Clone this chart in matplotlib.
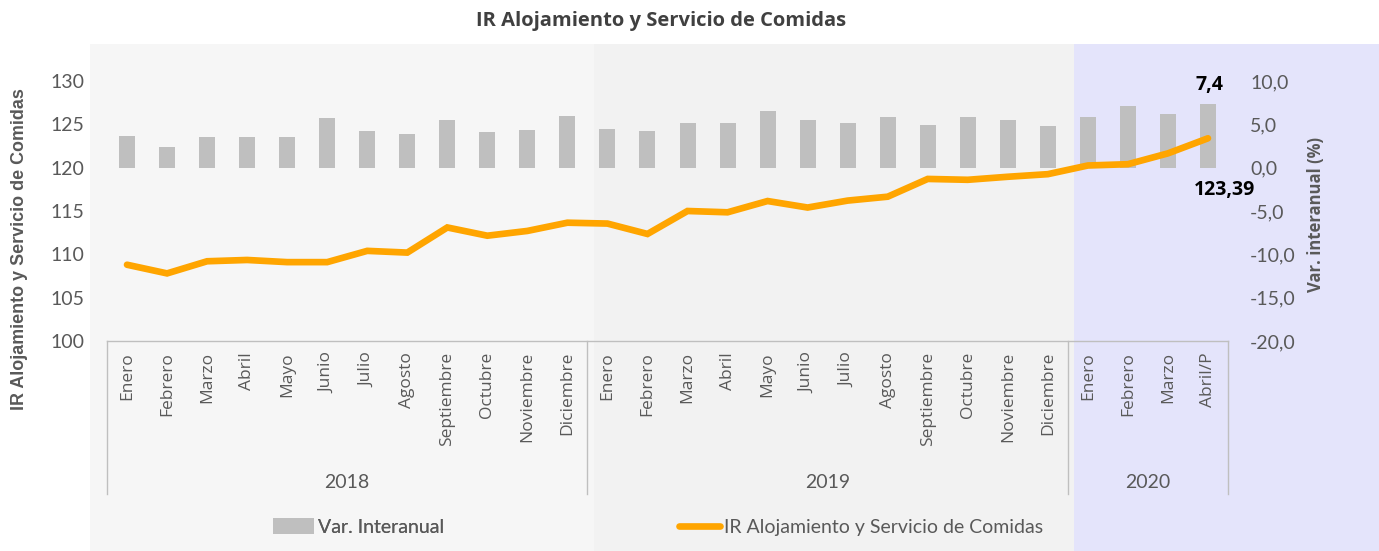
import matplotlib
matplotlib.use("Agg")
import matplotlib.pyplot as plt
from matplotlib.patches import Rectangle, Patch
from matplotlib.lines import Line2D
import matplotlib.transforms as mtransforms

# ---------------- data ----------------
months = ["Enero", "Febrero", "Marzo", "Abril", "Mayo", "Junio", "Julio", "Agosto",
          "Septiembre", "Octubre", "Noviembre", "Diciembre",
          "Enero", "Febrero", "Marzo", "Abril", "Mayo", "Junio", "Julio", "Agosto",
          "Septiembre", "Octubre", "Noviembre", "Diciembre",
          "Enero", "Febrero", "Marzo", "Abril/P"]
years = ["2018", "2019", "2020"]
year_counts = [12, 12, 4]

var_interanual = [3.6, 2.4, 3.5, 3.5, 3.5, 5.7, 4.2, 3.9, 5.5, 4.1, 4.3, 6.0,
                  4.5, 4.2, 5.2, 5.1, 6.5, 5.5, 5.2, 5.9, 4.9, 5.8, 5.5, 4.8,
                  5.9, 7.1, 6.2, 7.4]
ir_index = [108.8, 107.8, 109.2, 109.35, 109.1, 109.1, 110.4, 110.2, 113.1, 112.15, 112.7, 113.65,
            113.55, 112.35, 115.0, 114.85, 116.15, 115.4, 116.2, 116.65, 118.7, 118.6, 118.95, 119.25,
            120.25, 120.4, 121.65, 123.39]

left_ticks = [100, 105, 110, 115, 120, 125, 130]
right_ticks = [-20, -15, -10, -5, 0, 5, 10]

title = "IR Alojamiento y Servicio de Comidas"
left_label = "IR Alojamiento y Servicio de Comidas"
right_label = "Var. interanual (%)"
bar_legend = "Var. Interanual"
line_legend = "IR Alojamiento y Servicio de Comidas"

# ---------------- style ----------------
NUM_FONT = "Lato"
MONTH_FONT = "Open Sans"
GRAY_TXT = "#595959"
W, H = 1379, 551
fig = plt.figure(figsize=(W / 100, H / 100), dpi=100)
fig.patch.set_facecolor("white")

def fx(px):
    return px / W

def fy(py):
    return 1 - py / H

# background panels (figure decoration)
panels = [(90, 594, "#f6f6f6"), (594, 1074, "#f2f2f2"), (1074, 1379, "#e4e4fb")]
for x0, x1, c in panels:
    fig.patches.append(Rectangle((fx(x0), 0), fx(x1) - fx(x0), fy(44), transform=fig.transFigure,
                                 facecolor=c, edgecolor="none", zorder=-5))

# axes
ax_l, ax_r, ax_t, ax_b = 107, 1228, 81, 341
ax = fig.add_axes([fx(ax_l), fy(ax_b), fx(ax_r) - fx(ax_l), fy(ax_t) - fy(ax_b)])
ax2 = ax.twinx()
ax.set_zorder(2)
ax2.set_zorder(1)
ax.patch.set_visible(False)
ax2.patch.set_visible(False)

n = len(months)
x = list(range(n))

ax2.bar(x, var_interanual, width=0.4, color="#bfbfbf", zorder=2)
ax.plot(x, ir_index, color="#ffa500", lw=4.8, solid_capstyle="round", solid_joinstyle="miter", zorder=3)

ax.set_xlim(-0.5, n - 0.5)
ax.set_ylim(100, 130)
ax2.set_ylim(-20, 10)
ax.set_yticks(left_ticks)
ax.set_yticklabels([str(v) for v in left_ticks])
ax2.set_yticks(right_ticks)
ax2.set_yticklabels([f"{v:.1f}".replace(".", ",") for v in right_ticks])

for a in (ax, ax2):
    for s in a.spines.values():
        s.set_visible(False)
ax.spines["bottom"].set_visible(True)
ax.spines["bottom"].set_color("#bfbfbf")
ax.spines["bottom"].set_linewidth(1.0)

ax.tick_params(axis="y", length=0, pad=16, labelsize=14, labelcolor=GRAY_TXT)
ax2.tick_params(axis="y", length=0, pad=16, labelsize=14, labelcolor=GRAY_TXT)
for lab in ax.get_yticklabels() + ax2.get_yticklabels():
    lab.set_fontfamily(NUM_FONT)

ax.set_xticks(x)
ax.set_xticklabels(months, rotation=90, fontsize=12.5, color=GRAY_TXT, family=MONTH_FONT, va="top")
ax.tick_params(axis="x", length=0, pad=8)

# category group separators and year labels
trans = mtransforms.blended_transform_factory(ax.transData, ax.transAxes)
box_depth = (494 - ax_b) / (ax_b - ax_t)
edges = [-0.5]
for c in year_counts:
    edges.append(edges[-1] + c)
for e in edges:
    ax.plot([e, e], [0, -box_depth], transform=trans, color="#bfbfbf", lw=1.0, clip_on=False)
year_y = -(482 - ax_b) / (ax_b - ax_t)
for i, yr in enumerate(years):
    ax.text((edges[i] + edges[i + 1]) / 2, year_y, yr, transform=trans, ha="center", va="center",
            fontsize=14, color=GRAY_TXT, family=NUM_FONT)

# data labels on last point
ax2.annotate(f"{var_interanual[-1]:.1f}".replace(".", ","), (x[-1], var_interanual[-1]),
             xytext=(1, 6), textcoords="offset points", ha="center", va="bottom",
             fontsize=14, fontweight="bold", color="black", family="Open Sans")
ax.annotate(f"{ir_index[-1]:.2f}".replace(".", ","), (x[-1], ir_index[-1]),
            xytext=(12, -37), textcoords="offset points", ha="center", va="center",
            fontsize=14, fontweight="bold", color="black", family="Open Sans")

# axis labels
fig.text(fx(20), fy(249), left_label, rotation=90, ha="center", va="center",
         fontsize=12.9, fontweight="bold", color=GRAY_TXT, family="Liberation Sans")
fig.text(fx(1316), fy(215), right_label, rotation=90, ha="center", va="center",
         fontsize=12, fontweight="bold", color=GRAY_TXT, family="Open Sans")

# title
fig.text(fx(661), fy(21), title, ha="center", va="center", fontsize=14.5, fontweight="bold",
         color="#404040", family="Open Sans")

# legend (two entries placed like the reference)
leg_prop = {"family": NUM_FONT, "size": 14}
leg1 = fig.legend([Patch(facecolor="#bfbfbf", edgecolor="none")], [bar_legend],
                  loc="center left", bbox_to_anchor=(fx(273), fy(527)), frameon=False,
                  handlelength=2.1, handleheight=0.85, handletextpad=0.2, borderpad=0, borderaxespad=0,
                  prop=leg_prop)
leg2 = fig.legend([Line2D([0], [0], color="#ffa500", lw=4.8, solid_capstyle="round")], [line_legend],
                  loc="center left", bbox_to_anchor=(fx(679), fy(527)), frameon=False,
                  handlelength=2.1, handletextpad=0.2, borderpad=0, borderaxespad=0,
                  prop=leg_prop)
fig.add_artist(leg1)
for lg in (leg1, leg2):
    for t in lg.get_texts():
        t.set_color(GRAY_TXT)

fig.savefig("out.png", dpi=100, facecolor="white")
